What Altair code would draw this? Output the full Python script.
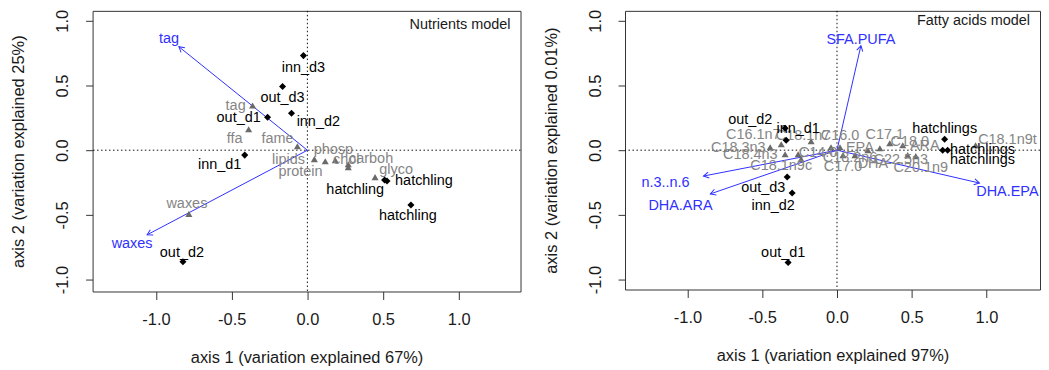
import math
import altair as alt
import pandas as pd

FONT = "Liberation Sans"
BLUE_TXT = "#3030ff"
BLUE_LINE = "#2f2fff"
GRAY_TXT = "#858585"
GRAY_PT = "#6a6a6a"
INK = "#1a1a1a"

TICKS = [-1.0, -0.5, 0.0, 0.5, 1.0]

# ---------------- Nutrients model ----------------
nut_site_names = ["inn_d3", "out_d3", "inn_d2", "out_d1", "inn_d1", "out_d2",
                  "hatchling", "hatchling", "hatchling"]
nut_site_x = [-0.026, -0.164, -0.105, -0.263, -0.414, -0.822, 0.526, 0.684, 0.510]
nut_site_y = [0.731, 0.492, 0.285, 0.254, -0.038, -0.862, -0.238, -0.423, -0.230]
nut_site_lab_x = [-0.026, -0.164, 0.072, -0.454, -0.579, -0.829, 0.770, 0.664, 0.316]
nut_site_lab_y = [0.638, 0.400, 0.215, 0.246, -0.115, -0.792, -0.238, -0.508, -0.308]

nut_var_names = ["tag", "ffa", "fame", "lipids", "protein", "phosp", "chol",
                 "carboh", "glyco", "waxes"]
nut_var_x = [-0.362, -0.388, -0.066, 0.046, 0.118, 0.184, 0.270, 0.270, 0.447, -0.783]
nut_var_y = [0.346, 0.162, 0.031, -0.069, -0.085, -0.077, -0.131, -0.108, -0.208, -0.492]
nut_var_lab_x = [-0.474, -0.480, -0.197, -0.125, -0.046, 0.171, 0.257, 0.421, 0.586, -0.796]
nut_var_lab_y = [0.338, 0.085, 0.085, -0.077, -0.169, 0.000, -0.077, -0.069, -0.154, -0.415]

nut_vec_names = ["tag", "waxes"]
nut_vec_x = [-0.849, -1.059]
nut_vec_y = [0.800, -0.654]
nut_vec_lab_x = [-0.914, -1.158]
nut_vec_lab_y = [0.862, -0.723]

# ---------------- Fatty acids model ----------------
fa_site_names = ["out_d2", "inn_d1", "out_d3", "inn_d2", "out_d1",
                 "hatchlings", "hatchlings", "hatchlings"]
fa_site_x = [-0.347, -0.340, -0.333, -0.300, -0.327, 0.720, 0.707, 0.740]
fa_site_y = [0.169, 0.077, -0.208, -0.331, -0.869, 0.085, 0.000, 0.000]
fa_site_lab_x = [-0.580, -0.260, -0.493, -0.427, -0.360, 0.720, 0.973, 0.973]
fa_site_lab_y = [0.231, 0.162, -0.292, -0.431, -0.792, 0.162, 0.000, -0.077]

fa_var_names = ["C18.3n3", "C16.1n7", "C18.4n3", "C14.0", "C18.1n9c", "C18.1n7",
                "C16.0", "EPA", "C18.2n6", "C17.0", "DHA", "ARA", "C17.1", "C18.0",
                "C22.5n3", "C20.1n9", "C18.1n9t"]
fa_var_x = [-0.447, -0.373, -0.347, -0.260, -0.240, -0.173, -0.040, 0.020, 0.040,
            0.120, 0.207, 0.287, 0.353, 0.440, 0.527, 0.473, 0.927]
fa_var_y = [0.023, 0.046, -0.031, -0.031, -0.069, 0.069, 0.023, 0.023, -0.038,
            -0.038, 0.000, 0.015, 0.054, 0.038, -0.046, -0.038, 0.038]
fa_var_lab_x = [-0.660, -0.560, -0.580, -0.127, -0.373, -0.227, 0.020, 0.153, 0.087,
                0.040, 0.240, 0.587, 0.320, 0.487, 0.427, 0.560, 1.140]
fa_var_lab_y = [0.015, 0.115, -0.038, -0.023, -0.123, 0.108, 0.108, 0.015, -0.062,
                -0.131, -0.108, 0.031, 0.115, 0.062, -0.077, -0.138, 0.077]

fa_vec_names = ["SFA.PUFA", "DHA.EPA", "n.3..n.6", "DHA.ARA"]
fa_vec_x = [0.160, 0.953, -0.893, -0.847]
fa_vec_y = [0.808, -0.254, -0.200, -0.338]
fa_vec_lab_x = [0.160, 1.140, -1.147, -1.047]
fa_vec_lab_y = [0.854, -0.323, -0.254, -0.431]

ARROW_PATH = "M-0.5,0.87L0,0L0.5,0.87"


def panel(model, model_dy, sx, sy, slx, sly, snames, vx, vy, vlx, vly, vnames,
          ax, ay, alx, aly, anames, xdom, ydom, w, h, xtitle, ytitle):
    kx = w / (xdom[1] - xdom[0])
    ky = h / (ydom[1] - ydom[0])
    xaxis = alt.Axis(values=TICKS,
                     labelExpr="replace(format(datum.value, '.1f'), '\u2212', '-')",
                     grid=False, domain=False, tickSize=8, tickColor="#333333",
                     labelFont=FONT, labelFontSize=16.5, labelColor=INK,
                     labelBaseline="middle", labelPadding=20.5,
                     labelOverlap=False, labelFlush=False,
                     title=xtitle, titleFont=FONT, titleFontSize=16.5,
                     titleFontWeight="normal", titleColor=INK,
                     titleX=w / 2, titleY=66, titleBaseline="middle",
                     titleAlign="center")
    yaxis = alt.Axis(values=TICKS,
                     labelExpr="replace(format(datum.value, '.1f'), '\u2212', '-')",
                     grid=False, domain=False, tickSize=7, tickColor="#333333",
                     labelFont=FONT, labelFontSize=16.5, labelColor=INK,
                     labelAngle=270, labelAlign="center", labelBaseline="middle",
                     labelPadding=23, labelOverlap=False, labelFlush=False,
                     title=ytitle, titleFont=FONT, titleFontSize=16.5,
                     titleFontWeight="normal", titleColor=INK,
                     titleAngle=270, titleX=-74, titleY=h / 2,
                     titleBaseline="middle", titleAlign="center")
    xs = alt.Scale(domain=xdom, nice=False, zero=False)
    ys = alt.Scale(domain=ydom, nice=False, zero=False)

    def X(f):
        return alt.X(f, type="quantitative", scale=xs, axis=xaxis)

    def Y(f):
        return alt.Y(f, type="quantitative", scale=ys, axis=yaxis)

    sites = pd.DataFrame({"x": sx, "y": sy, "lx": slx, "ly": sly, "name": snames})
    vars_ = pd.DataFrame({"x": vx, "y": vy, "lx": vlx, "ly": vly, "name": vnames})
    angs = [math.degrees(math.atan2(a * kx, b * ky)) % 360 for a, b in zip(ax, ay)]
    vecs = pd.DataFrame({"x0": [0.0] * len(ax), "y0": [0.0] * len(ax), "x": ax, "y": ay,
                         "lx": alx, "ly": aly, "name": anames, "ang": angs})
    zero = pd.DataFrame({"z": [0.0]})

    vline = alt.Chart(zero).mark_rule(color="#111111", strokeDash=[1.5, 2.5],
                                      strokeWidth=1).encode(x=X("z"))
    hline = alt.Chart(zero).mark_rule(color="#111111", strokeDash=[1.5, 2.5],
                                      strokeWidth=1).encode(y=Y("z"))
    shafts = alt.Chart(vecs).mark_rule(color=BLUE_LINE, strokeWidth=1).encode(
        x=X("x0"), y=Y("y0"), x2=alt.X2("x"), y2=alt.Y2("y"))
    heads = alt.Chart(vecs).mark_point(shape=ARROW_PATH, filled=False, size=150,
                                       color=BLUE_LINE, strokeWidth=1, opacity=1).encode(
        x=X("x"), y=Y("y"), angle=alt.Angle("ang:Q", scale=None))
    vec_txt = alt.Chart(vecs).mark_text(font=FONT, fontSize=14.5, color=BLUE_TXT).encode(
        x=X("lx"), y=Y("ly"), text="name:N")
    tri = alt.Chart(vars_).mark_point(shape="triangle-up", filled=True, size=50,
                                      color=GRAY_PT, opacity=1).encode(x=X("x"), y=Y("y"))
    var_txt = alt.Chart(vars_).mark_text(font=FONT, fontSize=14.5, color=GRAY_TXT).encode(
        x=X("lx"), y=Y("ly"), text="name:N")
    dia = alt.Chart(sites).mark_point(shape="diamond", filled=True, size=50,
                                      color="#000000", opacity=1).encode(x=X("x"), y=Y("y"))
    site_txt = alt.Chart(sites).mark_text(font=FONT, fontSize=14.5, color="#000000").encode(
        x=X("lx"), y=Y("ly"), text="name:N")
    title_txt = alt.Chart(pd.DataFrame({"t": [model]})).mark_text(
        font=FONT, fontSize=14.5, color=INK, align="right", baseline="middle").encode(
        x=alt.value(w - 10), y=alt.value(model_dy), text="t:N")

    return alt.layer(vline, hline, shafts, heads, vec_txt, tri, var_txt, dia, site_txt,
                     title_txt).properties(width=w, height=h)


left = panel("Nutrients model", 14,
             nut_site_x, nut_site_y, nut_site_lab_x, nut_site_lab_y, nut_site_names,
             nut_var_x, nut_var_y, nut_var_lab_x, nut_var_lab_y, nut_var_names,
             nut_vec_x, nut_vec_y, nut_vec_lab_x, nut_vec_lab_y, nut_vec_names,
             [-1.419, 1.408], [-1.092, 1.077], 430, 282,
             "axis 1 (variation explained 67%)", "axis 2 (variation explained 25%)")

right = panel("Fatty acids model", 10,
              fa_site_x, fa_site_y, fa_site_lab_x, fa_site_lab_y, fa_site_names,
              fa_var_x, fa_var_y, fa_var_lab_x, fa_var_lab_y, fa_var_names,
              fa_vec_x, fa_vec_y, fa_vec_lab_x, fa_vec_lab_y, fa_vec_names,
              [-1.418, 1.358], [-1.077, 1.077], 417, 280,
              "axis 1 (variation explained 97%)", "axis 2 (variation explained 0.01%)")

chart = alt.hconcat(left, right, spacing=21).resolve_scale(
    x="independent", y="independent").properties(
    padding={"left": 2, "top": 0, "right": 0, "bottom": 0},
    background="white").configure_view(stroke="#333333", strokeWidth=1)

chart.save("out.html", embed_options={"renderer": "svg", "actions": False})
